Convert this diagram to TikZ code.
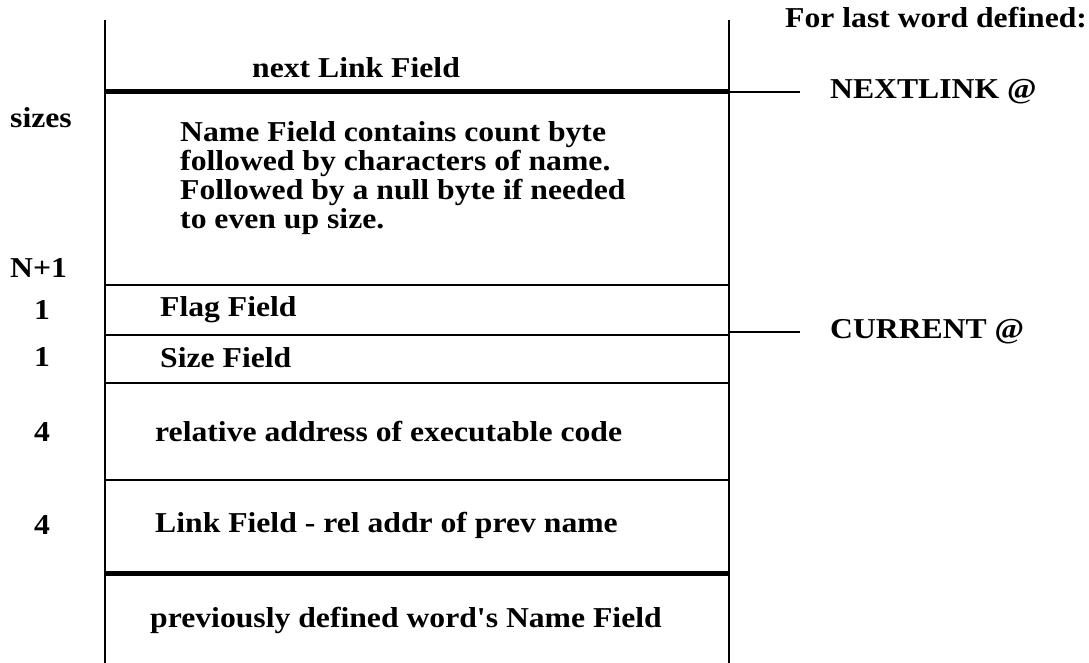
\documentclass[tikz,border=0pt]{standalone}
\usepackage{fontspec}
\setmainfont{Liberation Serif}[FakeStretch=1.1,Ligatures=TeXOff]
\usetikzlibrary{positioning}
\tikzset{
  txt/.style={font=\fontsize{28.8}{29}\selectfont\bfseries,inner sep=0pt,anchor=west},
  rule/.style={line width=2.5pt},
  heavy/.style={line width=5pt}
}
\begin{document}
\begin{tikzpicture}[x=1pt,y=-1pt]
\useasboundingbox (0,0) rectangle (1089,663);
% the dictionary entry
\draw [rule] (105,20) -- (105,663);
\draw [rule] (729,20) -- (729,663);
\draw [heavy] (105,92) -- (729,92);
\draw [rule] (105,285) -- (729,285);
\draw [rule] (105,335) -- (729,335);
\draw [rule] (105,383) -- (729,383);
\draw [rule] (105,480) -- (729,480);
\draw [heavy] (105,573) -- (729,573);
\node [txt] (nextlink) at (252,68) {next Link Field};
\node [txt,anchor=north west,align=left] (name) at (180,121)
    {Name Field contains count byte\\followed by characters of name.\\
     Followed by a null byte if needed\\to even up size.};
\node [txt] (flag) at (160,310) {Flag Field};
\node [txt] (size) at (160,358) {Size Field};
\node [txt] (code) at (155,432) {relative address of executable code};
\node [txt] (link) at (155,525) {Link Field - rel addr of prev name};
\node [txt] (prev) at (150,620) {previously defined word's Name Field};
% sizes column
\node [txt] (sizes) at (10,118) {sizes};
\node [txt] (nsize) at (10,268) {N+1};
\node [txt] (flagsize) at (34,310) {1};
\node [txt] (sizesize) at (34,357) {1};
\node [txt] (codesize) at (34,432) {4};
\node [txt] (linksize) at (34,525) {4};
% pointers for last word defined
\node [txt] (last) at (785,18) {For last word defined:};
\node [txt] (nl) at (830,92) {NEXTLINK @};
\node [txt] (cur) at (830,332) {CURRENT @};
\coordinate (nlfoot) at (729,92);
\coordinate (curfoot) at (729,332);
\draw [rule] (nlfoot) -- ([xshift=-30pt]nl.west);
\draw [rule] (curfoot) -- ([xshift=-30pt]cur.west);
\end{tikzpicture}
\end{document}
